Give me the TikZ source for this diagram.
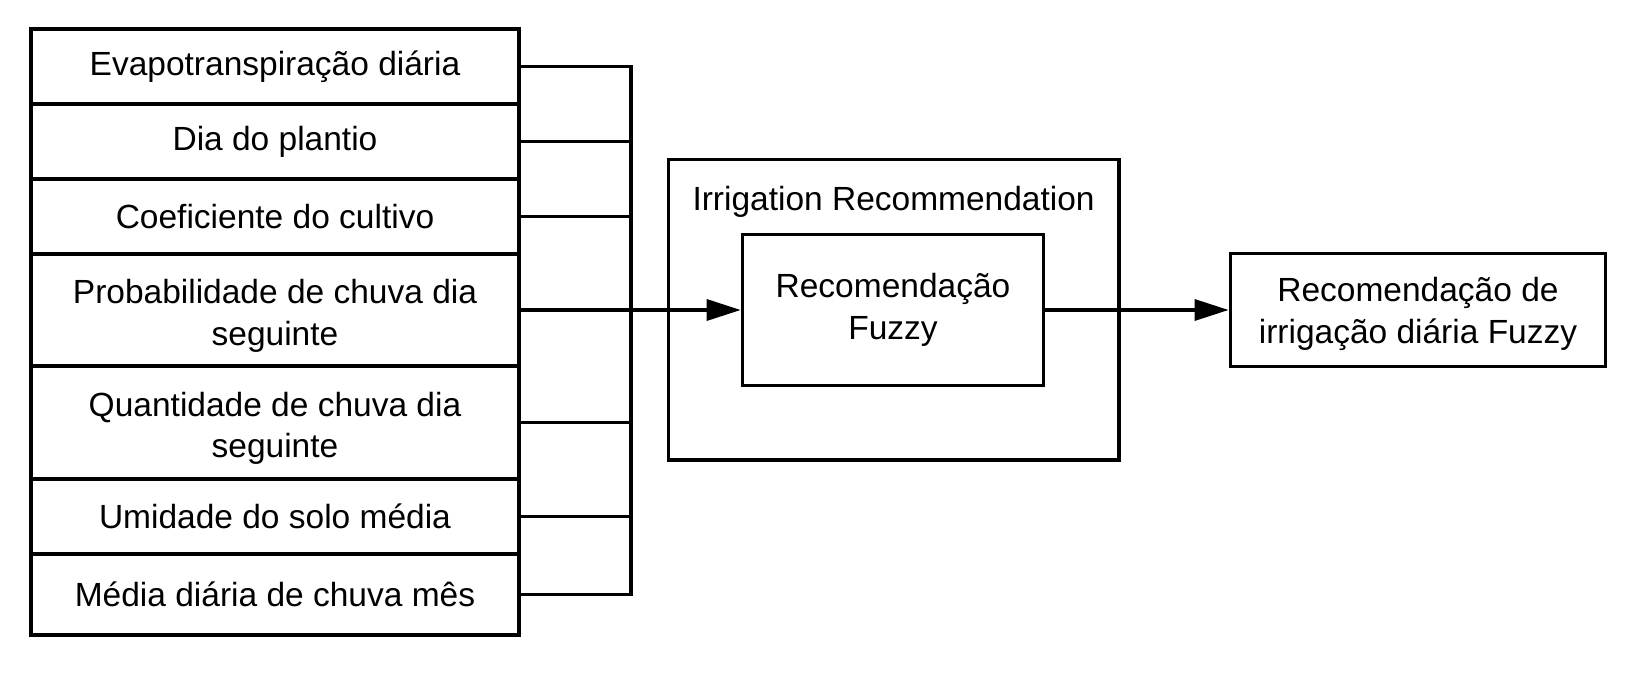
\documentclass[tikz,border=0pt]{standalone}
\usepackage{fontspec}
\setmainfont{Liberation Sans}
\usetikzlibrary{arrows.meta}

\begin{document}
\begin{tikzpicture}[x=0.5pt,y=-0.5pt]
    \tikzstyle{every node}=[font=\fontsize{16.75}{20.9}\selectfont]
    \tikzstyle{cell}=[draw,line width=1.7pt,minimum width=244pt,inner sep=0pt,align=center]
    \tikzstyle{box}=[draw,line width=1.7pt,inner sep=0pt,align=center]
    \tikzstyle{wire}=[line width=1.7pt]
    \tikzstyle{tip}=[-{Triangle[length=17pt,width=10.5pt]}]
    \fill[white](0,0)rectangle(1635,679);
    \useasboundingbox(0,0)rectangle(1635,679);
    % input variables
    \draw node[cell,minimum height=37.5pt](evap)at(275,66.5){Evapotranspiração diária}
          node[cell,minimum height=37.5pt](dia)at(275,141.5){Dia do plantio}
          node[cell,minimum height=37.5pt](coef)at(275,216.5){Coeficiente do cultivo}
          node[cell,minimum height=56pt](prob)at(275,310){\rule{0pt}{18pt}Probabilidade de chuva dia\\seguinte}
          node[cell,minimum height=56.5pt](quant)at(275,422.5){\rule{0pt}{18pt}Quantidade de chuva dia\\seguinte}
          node[cell,minimum height=37.5pt](umid)at(275,516.5){Umidade do solo média}
          node[cell,minimum height=40.5pt](media)at(275,594.5){Média diária de chuva mês};
    % fuzzy system
    \draw node[box,minimum width=225.2pt,minimum height=150.2pt](irr)at(893.6,309.7){}
          node(title)at(893.6,202){Irrigation Recommendation}
          node[box,minimum width=150.6pt,minimum height=75.6pt](fuzzy)at(893,310){Recomendação\\Fuzzy}
          node[box,minimum width=187.7pt,minimum height=56.3pt](out)at(1418,310){\rule{0pt}{16pt}Recomendação de\\irrigação diária Fuzzy};
    \coordinate(bus)at(630.8,0);
    \draw[wire](evap.east)-|(media.east-|bus)--(media.east);
    \foreach \n in {dia,coef,quant,umid}
        \draw[wire](\n.east)--(\n.east-|bus);
    \draw[wire,tip](prob.east)--(fuzzy.west);
    \draw[wire,tip](fuzzy.east)--(out.west);
\end{tikzpicture}
\end{document}
